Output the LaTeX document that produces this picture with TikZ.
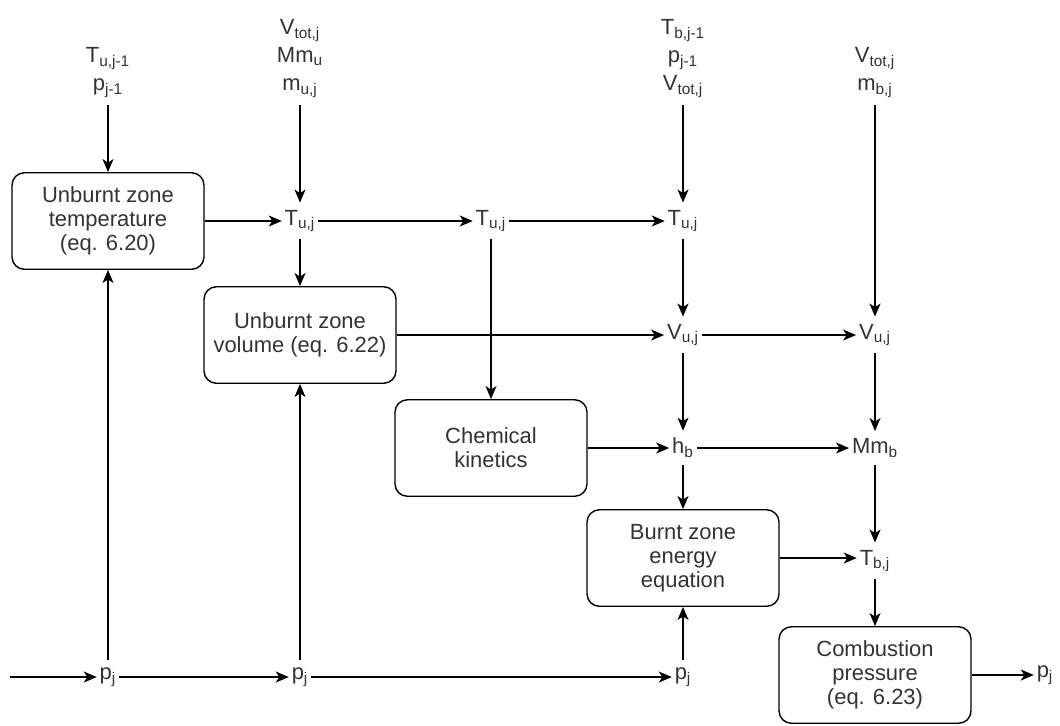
\documentclass[tikz,border=0pt]{standalone}
\usepackage{fontspec}
\setmainfont{Liberation Sans}
\usetikzlibrary{arrows.meta, positioning}
\tikzset{
  % Diagram styles
  stage/.style={rectangle, rounded corners=7pt, minimum width=3.84cm, minimum height=1.93cm, text centered, align=center, draw=black, line width=0.8pt, text=black!80, font=\fontsize{12.5}{13.8}\selectfont},
  var/.style={inner xsep=1.5pt, inner ysep=4pt, text=black!80, font=\fontsize{12.5}{15}\selectfont},
  given/.style={var, align=center, anchor=south, font=\fontsize{12.5}{16}\selectfont},
  flow/.style={-{Stealth[length=2.6mm, width=2.2mm, inset=0.7mm]}, line width=0.8pt},
}

\begin{document}
\begin{tikzpicture}[x=0.02cm, y=-0.02cm]
    \useasboundingbox (0,0) rectangle (1060,725);

    % Stages
    \node[stage] (tempu) at (108,221) {Unburnt zone\\temperature\\(eq. 6.20)};
    \node[stage] (volu) at (300,335) {Unburnt zone\\volume (eq. 6.22)};
    \node[stage] (chem) at (491,448) {Chemical\\kinetics};
    \node[stage] (energyb) at (683,558) {Burnt zone\\energy\\equation};
    \node[stage] (press) at (875,675) {Combustion\\pressure\\(eq. 6.23)};

    % Inputs from the previous step
    \node[given] (top1) at (108,105) {T\textsubscript{u,j-1}\\p\textsubscript{j-1}};
    \node[given] (top2) at (300,105) {V\textsubscript{tot,j}\\Mm\textsubscript{u}\\m\textsubscript{u,j}};
    \node[given] (top3) at (683,105) {T\textsubscript{b,j-1}\\p\textsubscript{j-1}\\V\textsubscript{tot,j}};
    \node[given] (top4) at (875,105) {V\textsubscript{tot,j}\\m\textsubscript{b,j}};

    % Variables
    \node[var] (tu1) at (300,221) {T\textsubscript{u,j}};
    \node[var] (tu2) at (491,221) {T\textsubscript{u,j}};
    \node[var] (tu3) at (683,221) {T\textsubscript{u,j}};
    \node[var] (vu1) at (683,335) {V\textsubscript{u,j}};
    \node[var] (vu2) at (875,335) {V\textsubscript{u,j}};
    \node[var] (hb) at (683,448) {h\textsubscript{b}};
    \node[var] (mmb) at (875,448) {Mm\textsubscript{b}};
    \node[var] (tbj) at (875,561) {T\textsubscript{b,j}};
    \node[var] (p1) at (108,677) {p\textsubscript{j}};
    \node[var] (p2) at (300,677) {p\textsubscript{j}};
    \node[var] (p3) at (683,677) {p\textsubscript{j}};
    \node[var] (pout) at (1045,675) {p\textsubscript{j}};
    \coordinate (pin) at (10,677);

    % Arrows
    \draw[flow] (top1) -- (tempu);
    \draw[flow] (top2) -- (tu1);
    \draw[flow] (top3) -- (tu3);
    \draw[flow] (top4) -- (vu2);
    \draw[flow] (tempu) -- (tu1);
    \draw[flow] (tu1) -- (tu2);
    \draw[flow] (tu2) -- (tu3);
    \draw[flow] (tu1) -- (volu);
    \draw[flow] (tu2) -- (chem);
    \draw[flow] (tu3) -- (vu1);
    \draw[flow] (volu) -- (vu1);
    \draw[flow] (vu1) -- (vu2);
    \draw[flow] (vu1) -- (hb);
    \draw[flow] (vu2) -- (mmb);
    \draw[flow] (chem) -- (hb);
    \draw[flow] (hb) -- (mmb);
    \draw[flow] (hb) -- (energyb);
    \draw[flow] (mmb) -- (tbj);
    \draw[flow] (energyb) -- (energyb -| tbj.west);
    \draw[flow] (tbj) -- (press);
    \draw[flow] (press) -- (pout);
    \draw[flow] (pin) -- (p1);
    \draw[flow] (p1) -- (p2);
    \draw[flow] (p2) -- (p3);
    \draw[flow] (p1) -- (tempu);
    \draw[flow] (p2) -- (volu);
    \draw[flow] (p3) -- (energyb);
  \end{tikzpicture}
\end{document}
